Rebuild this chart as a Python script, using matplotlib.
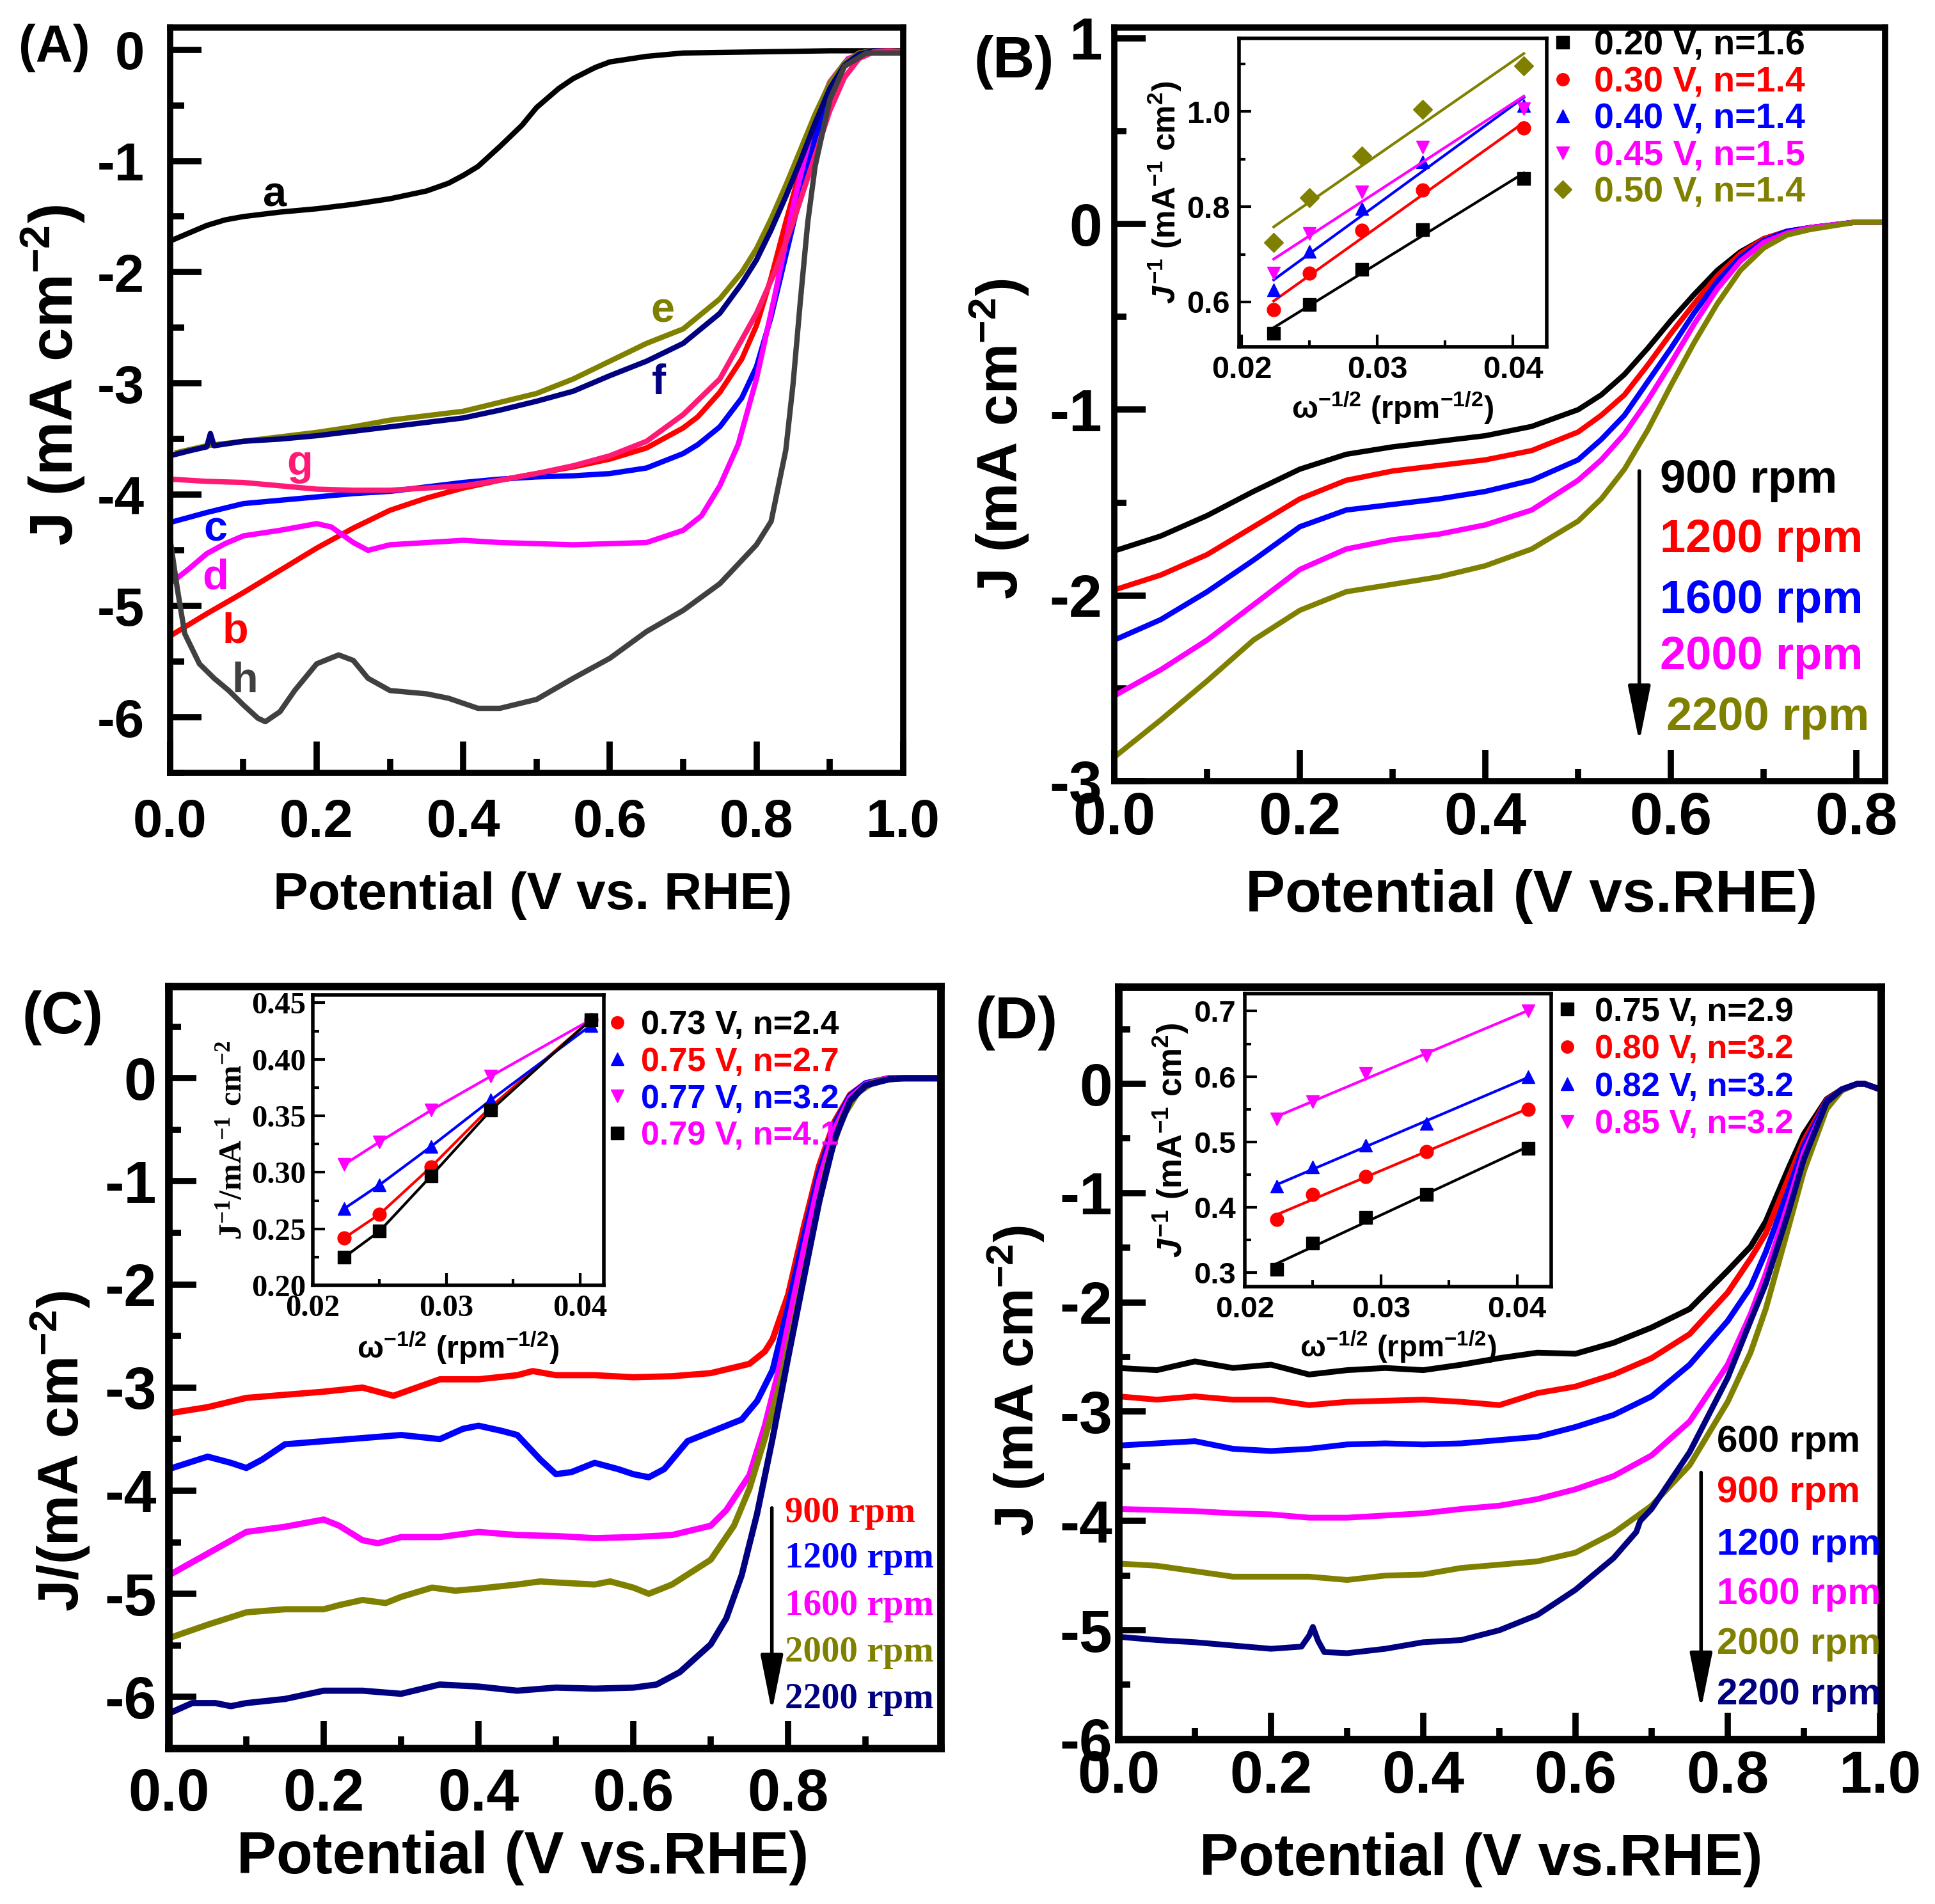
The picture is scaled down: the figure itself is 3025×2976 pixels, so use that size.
import matplotlib
matplotlib.use("Agg")
import matplotlib.pyplot as plt
from matplotlib.ticker import MultipleLocator, FormatStrFormatter
from matplotlib.lines import Line2D
import numpy as np

plt.rcParams['font.family'] = ['Liberation Sans', 'DejaVu Sans']
plt.rcParams['font.weight'] = 'bold'
plt.rcParams['axes.labelweight'] = 'bold'
plt.rcParams['axes.unicode_minus'] = False
plt.rcParams['mathtext.fontset'] = 'custom'
plt.rcParams['mathtext.rm'] = 'Liberation Sans:bold'
plt.rcParams['mathtext.bf'] = 'Liberation Sans:bold'
plt.rcParams['mathtext.it'] = 'Liberation Sans:bold:italic'
plt.rcParams['mathtext.sf'] = 'Liberation Serif:bold'
plt.rcParams['mathtext.default'] = 'bf'

# ---------------- panel A data ----------------
a_x = [0, 0.025, 0.05, 0.075, 0.1, 0.15, 0.2, 0.25, 0.3, 0.35, 0.38, 0.4, 0.42, 0.45,
       0.48, 0.5, 0.53, 0.55, 0.58, 0.6, 0.65, 0.7, 0.8, 0.9, 1.0]
a_y = [-1.72, -1.65, -1.58, -1.53, -1.50, -1.46, -1.43, -1.39, -1.34, -1.27, -1.20, -1.13,
       -1.05, -0.87, -0.68, -0.52, -0.35, -0.26, -0.16, -0.11, -0.06, -0.03, -0.02, -0.01, -0.01]

bc_x = [0, 0.05, 0.1, 0.15, 0.2, 0.25, 0.3, 0.35, 0.4, 0.45, 0.5, 0.55, 0.6, 0.65, 0.7,
        0.72, 0.75, 0.78, 0.8, 0.82, 0.84, 0.86, 0.88, 0.9, 0.92, 0.94, 0.96, 1.0]
b_y = [-5.27, -5.07, -4.88, -4.68, -4.48, -4.30, -4.14, -4.03, -3.94, -3.87, -3.81, -3.75,
       -3.68, -3.58, -3.40, -3.30, -3.08, -2.78, -2.48, -2.05, -1.55, -1.08, -0.65, -0.32,
       -0.12, -0.03, -0.01, -0.02]
c_y = [-4.25, -4.16, -4.08, -4.05, -4.02, -3.99, -3.97, -3.93, -3.89, -3.86, -3.84, -3.83,
       -3.81, -3.76, -3.63, -3.55, -3.39, -3.13, -2.85, -2.40, -1.85, -1.30, -0.80, -0.40,
       -0.15, -0.04, -0.01, -0.02]

d_x = [0, 0.025, 0.05, 0.075, 0.1, 0.15, 0.2, 0.22, 0.25, 0.27, 0.3, 0.35, 0.4, 0.45, 0.5,
       0.55, 0.6, 0.65, 0.7, 0.725, 0.75, 0.775, 0.8, 0.825, 0.85, 0.875, 0.9, 0.925, 0.95, 1.0]
d_y = [-4.80, -4.67, -4.53, -4.44, -4.37, -4.32, -4.26, -4.29, -4.43, -4.50, -4.45, -4.43,
       -4.41, -4.43, -4.44, -4.45, -4.44, -4.43, -4.32, -4.19, -3.92, -3.55, -2.96, -2.21,
       -1.41, -0.72, -0.29, -0.08, -0.02, -0.02]

e_x = [0.01, 0.05, 0.1, 0.15, 0.2, 0.25, 0.3, 0.35, 0.4, 0.45, 0.5, 0.55, 0.6, 0.65, 0.7,
       0.75, 0.78, 0.8, 0.82, 0.84, 0.86, 0.88, 0.9, 0.92, 0.94, 0.96, 1.0]
e_y = [-3.62, -3.56, -3.52, -3.48, -3.44, -3.39, -3.33, -3.29, -3.25, -3.17, -3.09, -2.96,
       -2.80, -2.64, -2.51, -2.24, -2.00, -1.79, -1.52, -1.22, -0.90, -0.58, -0.30, -0.12,
       -0.03, -0.01, -0.02]

f_x = [0, 0.03, 0.05, 0.055, 0.06, 0.1, 0.15, 0.2, 0.25, 0.3, 0.35, 0.4, 0.45, 0.5, 0.55,
       0.6, 0.65, 0.7, 0.75, 0.78, 0.8, 0.82, 0.84, 0.86, 0.88, 0.9, 0.92, 0.94, 0.96, 1.0]
f_y = [-3.65, -3.60, -3.57, -3.45, -3.56, -3.52, -3.50, -3.47, -3.43, -3.39, -3.35, -3.31,
       -3.24, -3.16, -3.07, -2.93, -2.80, -2.64, -2.37, -2.10, -1.89, -1.62, -1.32, -1.00,
       -0.66, -0.35, -0.14, -0.04, -0.01, -0.02]

g_x = [0, 0.05, 0.1, 0.15, 0.2, 0.25, 0.3, 0.35, 0.4, 0.45, 0.5, 0.55, 0.6, 0.65, 0.7,
       0.75, 0.8, 0.825, 0.85, 0.875, 0.9, 0.92, 0.94, 0.96, 0.98, 1.0]
g_y = [-3.86, -3.88, -3.89, -3.92, -3.95, -3.96, -3.96, -3.94, -3.92, -3.87, -3.81, -3.74,
       -3.65, -3.52, -3.28, -2.96, -2.37, -2.00, -1.55, -1.05, -0.55, -0.25, -0.08, -0.02,
       -0.01, -0.02]

h_x = [0, 0.01, 0.02, 0.04, 0.06, 0.08, 0.1, 0.12, 0.13, 0.15, 0.17, 0.2, 0.23, 0.25, 0.27,
       0.3, 0.35, 0.38, 0.42, 0.45, 0.5, 0.55, 0.6, 0.65, 0.7, 0.75, 0.8, 0.82, 0.84, 0.85,
       0.86, 0.87, 0.88, 0.9, 0.92, 0.95, 1.0]
h_y = [-4.40, -4.85, -5.25, -5.52, -5.65, -5.76, -5.89, -6.01, -6.04, -5.95, -5.76, -5.52,
       -5.44, -5.49, -5.65, -5.76, -5.79, -5.83, -5.92, -5.92, -5.84, -5.65, -5.47, -5.23,
       -5.04, -4.80, -4.45, -4.24, -3.60, -3.00, -2.25, -1.55, -1.05, -0.45, -0.15, -0.03, -0.03]

A_letters = ['a', 'b', 'c', 'd', 'e', 'f', 'g', 'h']
A_colors = ['#000000', '#FF0000', '#0000FF', '#FF00FF', '#808000', '#000080', '#FF1A75', '#404040']
A_letter_x = [0.143, 0.089, 0.062, 0.062, 0.672, 0.667, 0.177, 0.102]
A_letter_y = [-1.31, -5.23, -4.32, -4.75, -2.35, -3.00, -3.72, -5.68]

# ---------------- panel B data ----------------
B_x = [0, 0.05, 0.1, 0.15, 0.2, 0.25, 0.3, 0.35, 0.4, 0.45, 0.5, 0.525, 0.55, 0.575, 0.6,
       0.625, 0.65, 0.675, 0.7, 0.725, 0.75, 0.8, 0.83]
B_900 = [-1.76, -1.68, -1.57, -1.44, -1.32, -1.24, -1.20, -1.17, -1.14, -1.09, -1.00, -0.92,
         -0.81, -0.67, -0.52, -0.38, -0.25, -0.15, -0.08, -0.04, -0.02, 0.01, 0.01]
B_1200 = [-1.97, -1.89, -1.78, -1.63, -1.48, -1.38, -1.33, -1.30, -1.27, -1.22, -1.12, -1.03,
          -0.92, -0.76, -0.59, -0.43, -0.28, -0.16, -0.08, -0.04, -0.02, 0.01, 0.01]
B_1600 = [-2.24, -2.13, -1.98, -1.81, -1.63, -1.54, -1.51, -1.48, -1.44, -1.38, -1.27, -1.16,
          -1.03, -0.85, -0.67, -0.48, -0.31, -0.18, -0.09, -0.04, -0.02, 0.01, 0.01]
B_2000 = [-2.54, -2.40, -2.24, -2.05, -1.86, -1.75, -1.70, -1.67, -1.62, -1.54, -1.38, -1.27,
          -1.13, -0.95, -0.75, -0.54, -0.35, -0.20, -0.10, -0.05, -0.02, 0.01, 0.01]
B_2200 = [-2.87, -2.67, -2.46, -2.24, -2.08, -1.98, -1.94, -1.90, -1.84, -1.75, -1.60, -1.48,
          -1.32, -1.11, -0.87, -0.64, -0.43, -0.25, -0.13, -0.06, -0.03, 0.01, 0.01]
B_rpm = ['900 rpm', '1200 rpm', '1600 rpm', '2000 rpm', '2200 rpm']
B_colors = ['#000000', '#FF0000', '#0000FF', '#FF00FF', '#808000']

# inset B (Koutecky-Levich)
KL_x = [0.02236, 0.025, 0.02887, 0.03333, 0.04082]
Bi_020 = [0.534, 0.594, 0.669, 0.752, 0.860]
Bi_030 = [0.584, 0.660, 0.750, 0.835, 0.965]
Bi_040 = [0.625, 0.706, 0.796, 0.894, 1.012]
Bi_045 = [0.660, 0.744, 0.831, 0.925, 1.006]
Bi_050 = [0.725, 0.819, 0.906, 1.004, 1.096]
Bi_labels = ['0.20 V, n=1.6', '0.30 V, n=1.4', '0.40 V, n=1.4', '0.45 V, n=1.5', '0.50 V, n=1.4']
Bi_markers = ['s', 'o', '^', 'v', 'D']

# ---------------- panel C data ----------------
C9_x = [0, 0.05, 0.1, 0.15, 0.2, 0.25, 0.27, 0.29, 0.32, 0.35, 0.4, 0.45, 0.47, 0.5, 0.55,
        0.6, 0.65, 0.7, 0.75, 0.77, 0.78, 0.8, 0.82, 0.84, 0.86, 0.88, 0.9, 0.93, 0.997]
C9_y = [-3.25, -3.19, -3.10, -3.07, -3.04, -3.00, -3.04, -3.08, -3.00, -2.92, -2.92, -2.88,
        -2.84, -2.88, -2.88, -2.90, -2.89, -2.86, -2.77, -2.65, -2.53, -2.10, -1.45, -0.85,
        -0.42, -0.16, -0.05, 0.00, 0.00]
C12_x = [0, 0.05, 0.08, 0.1, 0.12, 0.15, 0.2, 0.25, 0.3, 0.35, 0.38, 0.4, 0.43, 0.45, 0.48,
         0.5, 0.52, 0.55, 0.58, 0.6, 0.62, 0.64, 0.67, 0.7, 0.74, 0.76, 0.78, 0.8, 0.82,
         0.84, 0.86, 0.88, 0.9, 0.93, 0.997]
C12_y = [-3.79, -3.67, -3.73, -3.78, -3.70, -3.55, -3.52, -3.49, -3.46, -3.50, -3.40, -3.37,
         -3.42, -3.46, -3.70, -3.84, -3.82, -3.73, -3.79, -3.84, -3.87, -3.79, -3.52, -3.43,
         -3.31, -3.13, -2.83, -2.22, -1.55, -0.92, -0.45, -0.17, -0.05, 0.00, 0.00]
C16_x = [0, 0.05, 0.1, 0.15, 0.2, 0.22, 0.25, 0.27, 0.3, 0.35, 0.4, 0.45, 0.5, 0.55, 0.6,
         0.65, 0.7, 0.72, 0.75, 0.77, 0.79, 0.8, 0.82, 0.84, 0.86, 0.88, 0.9, 0.93, 0.997]
C16_y = [-4.82, -4.61, -4.40, -4.35, -4.28, -4.34, -4.48, -4.51, -4.45, -4.45, -4.40, -4.43,
         -4.44, -4.46, -4.45, -4.43, -4.34, -4.19, -3.85, -3.37, -2.77, -2.40, -1.68, -1.00,
         -0.50, -0.19, -0.06, 0.00, 0.00]
C20_x = [0, 0.05, 0.1, 0.15, 0.2, 0.22, 0.25, 0.28, 0.3, 0.34, 0.37, 0.4, 0.45, 0.48, 0.5,
         0.55, 0.57, 0.6, 0.62, 0.65, 0.7, 0.73, 0.75, 0.77, 0.79, 0.81, 0.83, 0.85, 0.87,
         0.89, 0.91, 0.94, 0.997]
C20_y = [-5.43, -5.30, -5.18, -5.15, -5.15, -5.11, -5.06, -5.09, -5.03, -4.94, -4.97, -4.95,
         -4.91, -4.88, -4.89, -4.91, -4.88, -4.94, -5.00, -4.91, -4.67, -4.34, -3.98, -3.49,
         -2.95, -2.28, -1.56, -0.85, -0.38, -0.14, -0.04, 0.00, 0.00]
C22_x = [0, 0.03, 0.06, 0.08, 0.1, 0.15, 0.2, 0.25, 0.3, 0.35, 0.4, 0.45, 0.5, 0.55, 0.6,
         0.63, 0.66, 0.7, 0.72, 0.74, 0.76, 0.78, 0.8, 0.82, 0.84, 0.86, 0.88, 0.9, 0.93,
         0.95, 0.997]
C22_y = [-6.16, -6.06, -6.06, -6.09, -6.06, -6.02, -5.94, -5.94, -5.97, -5.88, -5.90, -5.94,
         -5.91, -5.92, -5.91, -5.88, -5.76, -5.49, -5.24, -4.82, -4.22, -3.49, -2.71, -1.95,
         -1.20, -0.59, -0.22, -0.07, -0.01, 0.00, 0.00]
C_rpm = ['900 rpm', '1200 rpm', '1600 rpm', '2000 rpm', '2200 rpm']
C_colors = ['#FF0000', '#0000FF', '#FF00FF', '#808000', '#000080']

Ci_073 = [0.242, 0.263, 0.305, 0.358, 0.435]
Ci_075 = [0.268, 0.289, 0.323, 0.364, 0.430]
Ci_077 = [0.307, 0.327, 0.355, 0.385, 0.435]
Ci_079 = [0.225, 0.248, 0.297, 0.355, 0.435]
Ci_labels = ['0.73 V, n=2.4', '0.75 V, n=2.7', '0.77 V, n=3.2', '0.79 V, n=4.1']
Ci_text_colors = ['#000000', '#FF0000', '#0000FF', '#FF00FF']
Ci_mark_colors = ['#FF0000', '#0000FF', '#FF00FF', '#000000']
Ci_markers = ['o', '^', 'v', 's']

# ---------------- panel D data ----------------
D_x = [0, 0.05, 0.1, 0.15, 0.2, 0.25, 0.3, 0.35, 0.4, 0.45, 0.5, 0.55, 0.6, 0.65, 0.7,
       0.75, 0.8, 0.83, 0.85, 0.88, 0.9, 0.93, 0.95, 0.97, 0.98, 1.0]
D_600 = [-2.60, -2.62, -2.54, -2.60, -2.57, -2.66, -2.62, -2.60, -2.62, -2.57, -2.51, -2.46,
         -2.47, -2.37, -2.23, -2.06, -1.71, -1.49, -1.26, -0.77, -0.46, -0.14, -0.05, 0.00,
         0.00, -0.05]
D_900 = [-2.86, -2.89, -2.86, -2.89, -2.89, -2.94, -2.91, -2.90, -2.89, -2.91, -2.94, -2.83,
         -2.77, -2.66, -2.51, -2.29, -1.91, -1.60, -1.37, -0.86, -0.52, -0.15, -0.05, 0.00,
         0.00, -0.05]
D_1200 = [-3.31, -3.29, -3.27, -3.34, -3.36, -3.34, -3.30, -3.29, -3.30, -3.29, -3.26, -3.23,
          -3.14, -3.03, -2.86, -2.57, -2.17, -1.86, -1.54, -0.97, -0.57, -0.16, -0.05, 0.00,
          0.00, -0.05]
D_1600 = [-3.89, -3.90, -3.91, -3.93, -3.94, -3.97, -3.97, -3.95, -3.93, -3.89, -3.86, -3.80,
          -3.71, -3.59, -3.40, -3.09, -2.57, -2.11, -1.74, -1.09, -0.63, -0.18, -0.06, 0.00,
          0.00, -0.05]
D_2000 = [-4.39, -4.41, -4.46, -4.51, -4.51, -4.51, -4.54, -4.50, -4.49, -4.43, -4.40, -4.37,
          -4.29, -4.11, -3.86, -3.49, -2.91, -2.46, -2.06, -1.31, -0.80, -0.23, -0.06, 0.00,
          0.00, -0.05]
D22_x = [0, 0.05, 0.1, 0.15, 0.2, 0.24, 0.25, 0.255, 0.262, 0.27, 0.3, 0.35, 0.4, 0.45, 0.5,
         0.55, 0.6, 0.65, 0.68, 0.685, 0.7, 0.75, 0.8, 0.83, 0.85, 0.88, 0.9, 0.93, 0.95,
         0.97, 0.98, 1.0]
D22_y = [-5.06, -5.09, -5.11, -5.14, -5.17, -5.15, -5.05, -4.97, -5.10, -5.20, -5.21, -5.17,
         -5.11, -5.09, -5.00, -4.86, -4.63, -4.34, -4.10, -4.00, -3.89, -3.37, -2.69, -2.17,
         -1.83, -1.17, -0.69, -0.17, -0.05, 0.00, 0.00, -0.05]
D_rpm = ['600 rpm', '900 rpm', '1200 rpm', '1600 rpm', '2000 rpm', '2200 rpm']
D_colors = ['#000000', '#FF0000', '#0000FF', '#FF00FF', '#808000', '#000080']

Di_075 = [0.305, 0.345, 0.385, 0.420, 0.490]
Di_080 = [0.382, 0.420, 0.447, 0.485, 0.550]
Di_082 = [0.432, 0.462, 0.495, 0.528, 0.600]
Di_085 = [0.535, 0.562, 0.605, 0.632, 0.700]
Di_labels = ['0.75 V, n=2.9', '0.80 V, n=3.2', '0.82 V, n=3.2', '0.85 V, n=3.2']
Di_markers = ['s', 'o', '^', 'v']


def style(ax, spine_w, tlen, tmin, tw, fs, xmaj, xmin, ymaj, ymin, xpad, ypad, xfmt, yfmt):
    for s in ax.spines.values():
        s.set_linewidth(spine_w)
    ax.tick_params(which='both', direction='in', top=False, right=False, width=tw)
    ax.tick_params(which='major', length=tlen, labelsize=fs)
    ax.tick_params(which='minor', length=tmin)
    ax.tick_params(axis='x', pad=xpad)
    ax.tick_params(axis='y', pad=ypad)
    ax.xaxis.set_major_locator(MultipleLocator(xmaj))
    ax.xaxis.set_minor_locator(MultipleLocator(xmin))
    ax.yaxis.set_major_locator(MultipleLocator(ymaj))
    ax.yaxis.set_minor_locator(MultipleLocator(ymin))
    ax.xaxis.set_major_formatter(FormatStrFormatter(xfmt))
    ax.yaxis.set_major_formatter(FormatStrFormatter(yfmt))


ARROW = '-|>,head_length=0.9,head_width=0.18'

fig = plt.figure(figsize=(30.25, 29.76), dpi=100)

# ================= A =================
axA = fig.add_axes([0.0879, 0.5941, 0.3788, 0.3915])
A_xs = [a_x, bc_x, bc_x, d_x, e_x, f_x, g_x, h_x]
A_ys = [a_y, b_y, c_y, d_y, e_y, f_y, g_y, h_y]
for xs, ys, col in zip(A_xs, A_ys, A_colors):
    axA.plot(xs, ys, color=col, lw=6)
for lt, lx, ly, col in zip(A_letters, A_letter_x, A_letter_y, A_colors):
    axA.text(lx, ly, lt, color=col, fontsize=48, ha='center', va='center')
axA.set_xlim(0, 1.0)
axA.set_ylim(-6.5, 0.2)
style(axA, 7, 35, 16, 7, 60, 0.2, 0.1, 1, 0.5, 28, 29, '%.1f', '%d')
axA.set_xlabel('Potential (V vs. RHE)', fontsize=59, labelpad=27)
axA.set_ylabel('J (mA cm$^{-2}$)', fontsize=68, labelpad=11)
axA.xaxis.label.set_x(0.495)
axA.yaxis.label.set_y(0.533)

# ================= B =================
axB = fig.add_axes([0.5759, 0.5897, 0.3983, 0.3958])
for ys, col in zip([B_900, B_1200, B_1600, B_2000, B_2200], B_colors):
    axB.plot(B_x, ys, color=col, lw=6)
B_lab_x = [0.588, 0.588, 0.588, 0.588, 0.595]
B_lab_y = [-1.38, -1.70, -2.03, -2.33, -2.66]
for t, lx, ly, col in zip(B_rpm, B_lab_x, B_lab_y, B_colors):
    axB.text(lx, ly, t, color=col, fontsize=52, ha='left', va='center')
axB.annotate('', xy=(0.566, -2.80), xytext=(0.566, -1.32),
             arrowprops=dict(arrowstyle=ARROW, lw=4, color='black', mutation_scale=60))
axB.set_xlim(0, 0.831)
axB.set_ylim(-3, 1.057)
style(axB, 7, 35, 14, 7, 67, 0.2, 0.1, 1, 0.5, 11.5, 14, '%.1f', '%d')
axB.set_xlabel('Potential (V vs.RHE)', fontsize=67, labelpad=25)
axB.set_ylabel('J (mA cm$^{-2}$)', fontsize=64, labelpad=20)
axB.xaxis.label.set_x(0.541)
axB.yaxis.label.set_y(0.454)

Bi_sets = [Bi_020, Bi_030, Bi_040, Bi_045, Bi_050]
handles = [Line2D([], [], ls='none', marker=m, color=c, markersize=14)
           for m, c in zip(Bi_markers, B_colors)]
axB.legend(handles, Bi_labels, loc='upper left', bbox_to_anchor=(0.5676, 0.998),
           frameon=False, fontsize=40, labelcolor=B_colors, handlelength=0.6,
           handletextpad=0.59, labelspacing=0.1, borderpad=0, borderaxespad=0)

axBi = fig.add_axes([0.6403, 0.8179, 0.159, 0.162])
for ys, col, mk in zip(Bi_sets, B_colors, Bi_markers):
    fit = np.polyfit(KL_x, ys, 1)
    axBi.plot(KL_x, np.polyval(fit, KL_x), color=col, lw=3)
    axBi.plot(KL_x, ys, ls='none', marker=mk, color=col, markersize=15)
axBi.set_xlim(0.0198, 0.0425)
axBi.set_ylim(0.506, 1.154)
style(axBi, 4, 14, 7, 3, 35, 0.01, 0.005, 0.2, 0.1, 10, 10, '%.2f', '%.1f')
axBi.set_xlabel('ω$^{-1/2}$ (rpm$^{-1/2}$)', fontsize=35, labelpad=6)
axBi.set_ylabel('$\\mathit{J}^{-1}$ (mA$^{-1}$ cm$^{2}$)', fontsize=36, labelpad=4)

# ================= C =================
axC = fig.add_axes([0.0873, 0.0817, 0.399, 0.4002])
C_xs = [C9_x, C12_x, C16_x, C20_x, C22_x]
C_ys = [C9_y, C12_y, C16_y, C20_y, C22_y]
for xs, ys, col in zip(C_xs, C_ys, C_colors):
    axC.plot(xs, ys, color=col, lw=7)
C_lab_y = [-4.22, -4.66, -5.12, -5.57, -6.02]
for t, ly, col in zip(C_rpm, C_lab_y, C_colors):
    axC.text(0.796, ly, t, color=col, fontsize=41, ha='left', va='center',
             family=['Liberation Serif', 'DejaVu Serif'])
axC.annotate('', xy=(0.779, -6.16), xytext=(0.779, -4.15),
             arrowprops=dict(arrowstyle=ARROW, lw=4, color='black', mutation_scale=60))
axC.set_xlim(0, 0.9975)
axC.set_ylim(-6.5, 0.89)
style(axC, 8.5, 31, 14, 7, 66, 0.2, 0.1, 1, 0.5, 22, 14, '%.1f', '%d')
axC.set_xlabel('Potential (V vs.RHE)', fontsize=67, labelpad=8)
axC.set_ylabel('J/(mA cm$^{-2}$)', fontsize=64, labelpad=14)
axC.xaxis.label.set_x(0.458)
axC.yaxis.label.set_y(0.39)

handles = [Line2D([], [], ls='none', marker=m, color=c, markersize=14)
           for m, c in zip(Ci_markers, Ci_mark_colors)]
axC.legend(handles, Ci_labels, loc='upper left', bbox_to_anchor=(0.5675, 0.9698),
           frameon=False, fontsize=37.5, labelcolor=Ci_text_colors, handlelength=0.6,
           handletextpad=0.42, labelspacing=0.17, borderpad=0, borderaxespad=0)

axCi = fig.add_axes([0.1617, 0.3249, 0.1504, 0.1526])
for ys, col, mk in zip([Ci_073, Ci_075, Ci_077, Ci_079], Ci_mark_colors, Ci_markers):
    axCi.plot(KL_x, ys, color=col, lw=3, marker=mk, markersize=15)
axCi.set_xlim(0.02, 0.0418)
axCi.set_ylim(0.2, 0.457)
style(axCi, 4, 14, 7, 3, 35, 0.01, 0.005, 0.05, 0.025, 10, 8, '%.2f', '%.2f')
for lbl in axCi.get_xticklabels() + axCi.get_yticklabels():
    lbl.set_family('Liberation Serif')
axCi.set_xlabel('ω$^{-1/2}$ (rpm$^{-1/2}$)', fontsize=35, labelpad=8)
axCi.set_ylabel('$\\mathsf{J^{-1}/mA^{-1}\\ cm^{-2}}$', fontsize=36, labelpad=4)

# ================= D =================
axD = fig.add_axes([0.5782, 0.0864, 0.394, 0.3952])
for ys, col in zip([D_600, D_900, D_1200, D_1600, D_2000], D_colors):
    axD.plot(D_x, ys, color=col, lw=6.5)
axD.plot(D22_x, D22_y, color=D_colors[5], lw=6.5)
D_lab_y = [-3.28, -3.74, -4.22, -4.67, -5.13, -5.59]
for t, ly, col in zip(D_rpm, D_lab_y, D_colors):
    axD.text(0.786, ly, t, color=col, fontsize=42, ha='left', va='center')
axD.annotate('', xy=(0.765, -5.74), xytext=(0.765, -3.54),
             arrowprops=dict(arrowstyle=ARROW, lw=4, color='black', mutation_scale=60))
axD.set_xlim(0, 1.0017)
axD.set_ylim(-6, 0.886)
style(axD, 8.5, 30, 13, 7, 67, 0.2, 0.1, 1, 0.5, 11.5, 7, '%.1f', '%d')
axD.set_xlabel('Potential (V vs.RHE)', fontsize=66, labelpad=31)
axD.set_ylabel('J (mA cm$^{-2}$)', fontsize=62, labelpad=15)
axD.xaxis.label.set_x(0.475)
axD.yaxis.label.set_y(0.477)

handles = [Line2D([], [], ls='none', marker=m, color=c, markersize=14)
           for m, c in zip(Di_markers, D_colors)]
axD.legend(handles, Di_labels, loc='upper left', bbox_to_anchor=(0.5747, 0.9872),
           frameon=False, fontsize=37.7, labelcolor=D_colors[:4], handlelength=0.6,
           handletextpad=0.53, labelspacing=0.18, borderpad=0, borderaxespad=0)

axDi = fig.add_axes([0.6433, 0.3243, 0.1583, 0.1539])
for ys, col, mk in zip([Di_075, Di_080, Di_082, Di_085], D_colors, Di_markers):
    fit = np.polyfit(KL_x, ys, 1)
    axDi.plot(KL_x, np.polyval(fit, KL_x), color=col, lw=3)
    axDi.plot(KL_x, ys, ls='none', marker=mk, color=col, markersize=15)
axDi.set_xlim(0.02, 0.0425)
axDi.set_ylim(0.279, 0.727)
style(axDi, 4, 14, 7, 3, 34, 0.01, 0.005, 0.1, 0.05, 10, 10, '%.2f', '%.1f')
axDi.set_xlabel('ω$^{-1/2}$ (rpm$^{-1/2}$)', fontsize=34, labelpad=6)
axDi.set_ylabel('$\\mathit{J}^{-1}$ (mA$^{-1}$ cm$^{2}$)', fontsize=38, labelpad=4)

# panel letters
fig.text(0.0281, 0.9748, '(A)', fontsize=58, ha='center', va='center')
fig.text(0.524, 0.9674, '(B)', fontsize=65, ha='center', va='center')
fig.text(0.0324, 0.4654, '(C)', fontsize=66, ha='center', va='center')
fig.text(0.5253, 0.4627, '(D)', fontsize=67, ha='center', va='center')

fig.savefig('out.png', dpi=100)
